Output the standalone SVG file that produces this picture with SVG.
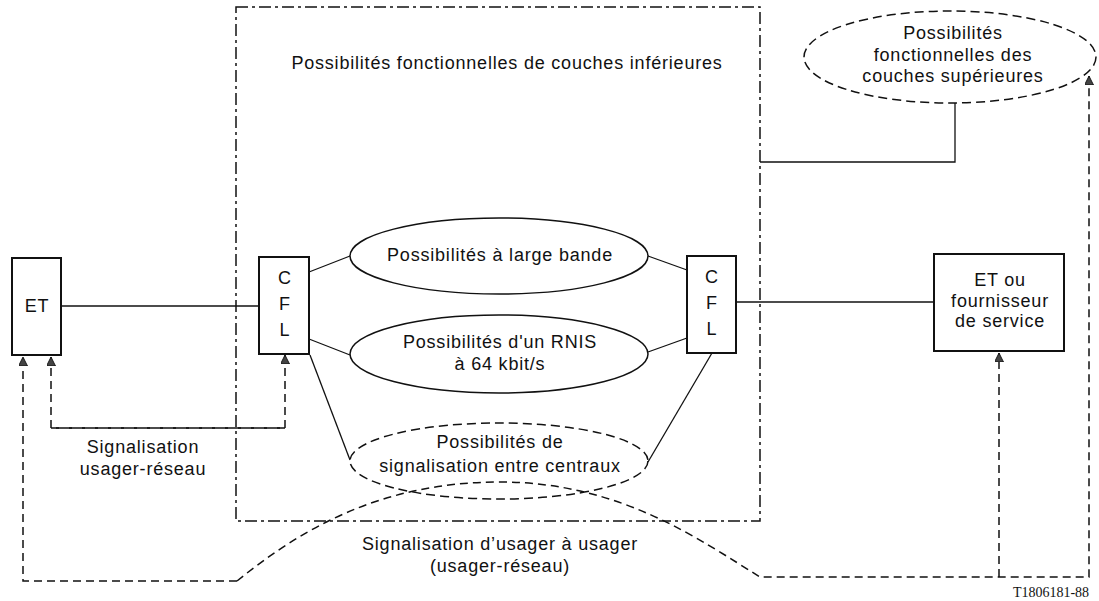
<svg xmlns="http://www.w3.org/2000/svg" width="1099" height="601" viewBox="0 0 1099 601">
<style>
text{font-family:"Liberation Sans",Arial,sans-serif;font-size:18px;letter-spacing:0.8px;fill:#111;text-anchor:middle}
.box{fill:#fff;stroke:#111;stroke-width:2}
.ell{fill:none;stroke:#111;stroke-width:1.5}
.dell{fill:none;stroke:#111;stroke-width:1.5;stroke-dasharray:9 5}
.ln{fill:none;stroke:#111;stroke-width:1.3}
.dsh{fill:none;stroke:#111;stroke-width:1.5;stroke-dasharray:8 5}
.area{fill:none;stroke:#111;stroke-width:1.5;stroke-dasharray:12 4 3 4}
</style>
<defs>
<marker id="ah" viewBox="0 0 10 10" refX="10" refY="5" markerWidth="9" markerHeight="9" markerUnits="userSpaceOnUse" orient="auto">
<path d="M0,0 L10,5 L0,10 z" fill="#444" stroke="#111" stroke-width="1"/>
</marker>
</defs>
<rect width="1099" height="601" fill="#fff"/>

<g id="zone-inferieures">
<rect x="236" y="7" width="524" height="514" class="area"/>
<text x="507" y="69">Possibilités fonctionnelles de couches inférieures</text>
</g>

<g id="connectors">
<line x1="61" y1="306" x2="259" y2="306" class="ln"/>
<line x1="736" y1="302" x2="934" y2="302" class="ln"/>
<polyline points="760,162 955,162 955,103" class="ln"/>
<line x1="309" y1="272" x2="350" y2="256" class="ln"/>
<line x1="309" y1="339" x2="350" y2="355" class="ln"/>
<line x1="310" y1="355" x2="350" y2="460" class="ln"/>
<line x1="648" y1="256" x2="687" y2="270" class="ln"/>
<line x1="648" y1="352" x2="687" y2="338" class="ln"/>
<line x1="648" y1="462" x2="712" y2="353" class="ln"/>
<path d="M285,428 L51,428 L51,357" class="dsh" marker-end="url(#ah)"/>
<path d="M51,428 L285,428 L285,355" class="dsh" marker-end="url(#ah)"/>
<path d="M237,581 L23,581 L23,357" class="dsh" marker-end="url(#ah)"/>
<path d="M237,581 C300,530 380,482 500,482 C620,482 700,540 760,577 L1089,577 L1089,76" class="dsh" marker-end="url(#ah)"/>
<path d="M999,577 L999,353" class="dsh" marker-end="url(#ah)"/>
</g>

<g id="et-gauche">
<rect x="12" y="258" width="49" height="97" class="box"/>
<text x="37" y="312">ET</text>
</g>

<g id="cfl-gauche">
<rect x="259" y="257" width="50" height="97" class="box"/>
<text x="285" y="284">C</text>
<text x="285" y="310">F</text>
<text x="285" y="336">L</text>
</g>

<g id="cfl-droite">
<rect x="687" y="256" width="49" height="97" class="box"/>
<text x="712" y="283">C</text>
<text x="712" y="309">F</text>
<text x="712" y="335">L</text>
</g>

<g id="et-fournisseur">
<rect x="934" y="254" width="130" height="97" class="box"/>
<text x="1000" y="286">ET ou</text>
<text x="1000" y="307">fournisseur</text>
<text x="1000" y="327">de service</text>
</g>

<g id="large-bande">
<ellipse cx="499" cy="256" rx="149" ry="38" class="ell"/>
<text x="500" y="261">Possibilités à large bande</text>
</g>

<g id="rnis">
<ellipse cx="499" cy="354" rx="149" ry="39" class="ell"/>
<text x="500" y="348">Possibilités d'un RNIS</text>
<text x="500" y="370">à 64 kbit/s</text>
</g>

<g id="signalisation-centraux">
<ellipse cx="499" cy="461" rx="149" ry="38" class="dell"/>
<text x="500" y="448">Possibilités de</text>
<text x="500" y="472">signalisation entre centraux</text>
</g>

<g id="couches-superieures">
<ellipse cx="950" cy="57" rx="146" ry="46" class="dell"/>
<text x="953" y="39">Possibilités</text>
<text x="953" y="61">fonctionnelles des</text>
<text x="953" y="82">couches supérieures</text>
</g>

<g id="labels">
<text x="143" y="453">Signalisation</text>
<text x="143" y="475">usager-réseau</text>
<text x="500" y="550">Signalisation d’usager à usager</text>
<text x="500" y="572">(usager-réseau)</text>
<text x="1051" y="597" style="font-family:'Liberation Serif',serif;font-size:14px;letter-spacing:0">T1806181-88</text>
</g>
</svg>
